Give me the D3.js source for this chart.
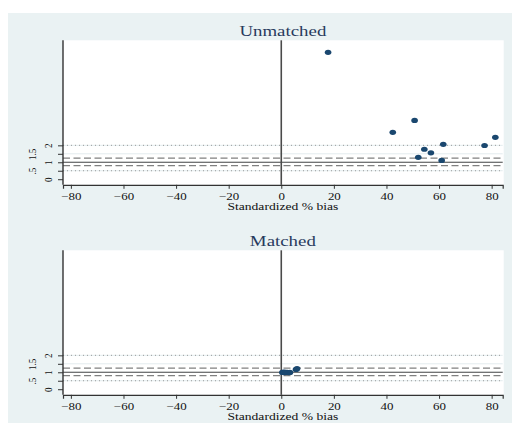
<!DOCTYPE html>
<html>
<head>
<meta charset="utf-8">
<script src="https://cdn.jsdelivr.net/npm/d3@7"></script>
<style>
  body { margin: 0; background: #ffffff; }
  text { font-family: "Liberation Serif", "DejaVu Serif", serif; }
</style>
</head>
<body>
<div id="chart"></div>
<script>
// Data
const panelTitles = ["Unmatched", "Matched"];
const xTicks = [-80, -60, -40, -20, 0, 20, 40, 60, 80];
const yTicks = [0, 0.5, 1, 1.5, 2];
const yTickLabels = ["0", ".5", "1", "1.5", "2"];

// standardized % bias and variance ratio, before matching
const unmatchedBias = [17.8, 42.4, 50.7, 52.1, 54.4, 56.9, 61.0, 61.6, 77.3, 81.4];
const unmatchedRatio = [7.49, 2.77, 3.47, 1.29, 1.77, 1.56, 1.11, 2.06, 1.99, 2.47];

// after matching
const matchedBias = [0.4, 0.9, 1.3, 1.8, 2.3, 2.8, 3.3, 1.1, 5.6, 6.0];
const matchedRatio = [0.99, 1.0, 0.98, 1.0, 0.99, 0.98, 0.99, 1.01, 1.17, 1.21];

const solidLines = [1];
const dashedLines = [0.8, 1.25];
const dottedLines = [0.5, 2];

const width = 512;
const height = 425;
const stretch = 1.32; // text looks widened horizontally

const svg = d3.select("#chart")
    .append("svg")
    .attr("width", width)
    .attr("height", height);

// light stata-like graph region
svg.append("rect")
    .attr("x", 8).attr("y", 13)
    .attr("width", width - 8).attr("height", 410)
    .attr("fill", "#eaf2f3");

const x = d3.scaleLinear()
    .domain([-83, 84.2])
    .range([63, 502.7]);

const plotH = 144.5;
const y = d3.scaleLinear()
    .domain([-0.33, 8.2])
    .range([plotH, 0]);

function drawPanel(top, title, bias, ratio) {
    const g = svg.append("g").attr("transform", `translate(0,${top})`);

    // plot region
    g.append("rect")
        .attr("x", x.range()[0]).attr("y", 0)
        .attr("width", x.range()[1] - x.range()[0] + 1)
        .attr("height", plotH)
        .attr("fill", "white");

    // grid lines (only the 1.5 one shows, the others are covered)
    g.selectAll(".grid")
        .data(yTicks.filter(d => d > 0))
        .join("line")
        .attr("x1", x.range()[0]).attr("x2", x.range()[1])
        .attr("y1", d => y(d)).attr("y2", d => y(d))
        .attr("stroke", "#e3ecee")
        .attr("stroke-width", 1);

    // reference lines
    g.selectAll(".dotted")
        .data(dottedLines)
        .join("line")
        .attr("x1", x.range()[0]).attr("x2", x.range()[1])
        .attr("y1", d => y(d)).attr("y2", d => y(d))
        .attr("stroke", "#9a9a9a")
        .attr("stroke-width", 1)
        .attr("stroke-dasharray", "1,3");

    g.selectAll(".dashed")
        .data(dashedLines)
        .join("line")
        .attr("x1", x.range()[0]).attr("x2", x.range()[1])
        .attr("y1", d => y(d)).attr("y2", d => y(d))
        .attr("stroke", "#808080")
        .attr("stroke-width", 1.3)
        .attr("stroke-dasharray", "7,3.5");

    g.selectAll(".solid")
        .data(solidLines)
        .join("line")
        .attr("x1", x.range()[0]).attr("x2", x.range()[1])
        .attr("y1", d => y(d)).attr("y2", d => y(d))
        .attr("stroke", "#4a4a4a")
        .attr("stroke-width", 1.2);

    // vertical line at zero bias
    g.append("line")
        .attr("x1", x(0)).attr("x2", x(0))
        .attr("y1", 0).attr("y2", plotH)
        .attr("stroke", "#4a4a4a")
        .attr("stroke-width", 1.6);

    // points
    g.selectAll(".pt")
        .data(d3.zip(bias, ratio))
        .join("ellipse")
        .attr("cx", d => x(d[0]))
        .attr("cy", d => y(d[1]))
        .attr("rx", 3.3)
        .attr("ry", 2.6)
        .attr("fill", "#1a476f");

    // x axis
    const xAxis = g.append("g")
        .attr("transform", `translate(0,${plotH})`)
        .call(d3.axisBottom(x).tickValues(xTicks).tickSize(4).tickFormat(d3.format("d")));
    xAxis.select(".domain").attr("stroke", "#333").attr("stroke-width", 1.2);
    xAxis.selectAll(".tick line").attr("stroke", "#333");
    xAxis.selectAll(".tick text")
        .attr("y", 0).attr("dy", null)
        .attr("transform", `translate(0,14.8) scale(${stretch},1)`)
        .attr("font-size", 9.8)
        .attr("fill", "#111");

    // y axis
    const yAxis = g.append("g")
        .attr("transform", `translate(${x.range()[0]},0)`)
        .call(d3.axisLeft(y).tickValues(yTicks).tickSize(5).tickFormat((d, i) => yTickLabels[i]));
    yAxis.select(".domain").attr("stroke", "#333").attr("stroke-width", 1.4)
        .attr("d", `M0,0V${plotH}`);
    yAxis.selectAll(".tick line").attr("stroke", "#333");
    // labels alternate between two columns
    yAxis.selectAll(".tick text")
        .attr("x", 0).attr("dy", null)
        .attr("text-anchor", "middle")
        .attr("transform", (d, i) => `translate(${i % 2 === 0 ? -11 : -27.5},0) scale(1.15,1) rotate(-90)`)
        .attr("font-size", 9)
        .attr("fill", "#111");

    // axis title
    g.append("text")
        .attr("transform", `translate(${(x.range()[0] + x.range()[1]) / 2},${plotH + 25.3}) scale(${stretch},1)`)
        .attr("text-anchor", "middle")
        .attr("font-size", 10.3)
        .attr("fill", "#111")
        .text("Standardized % bias");

    // panel title
    g.append("text")
        .attr("transform", `translate(${(x.range()[0] + x.range()[1]) / 2},-4.5) scale(${stretch},1)`)
        .attr("text-anchor", "middle")
        .attr("font-size", 14.3)
        .attr("fill", "#283a5e")
        .text(title);
}

drawPanel(40.3, panelTitles[0], unmatchedBias, unmatchedRatio);
drawPanel(250.3, panelTitles[1], matchedBias, matchedRatio);
</script>
</body>
</html>
